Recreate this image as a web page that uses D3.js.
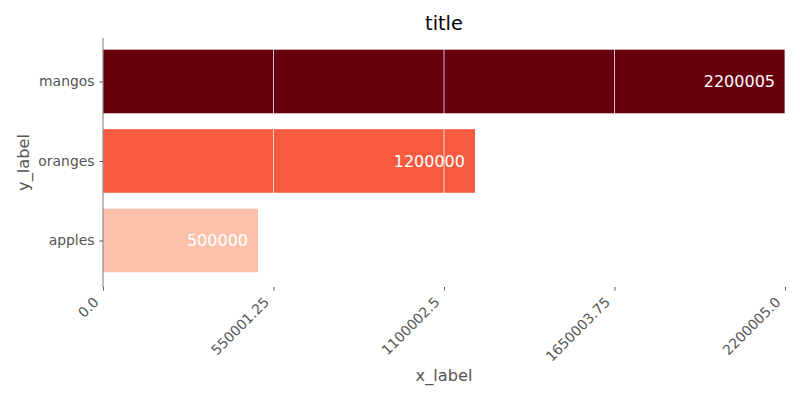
<!DOCTYPE html>
<html>
<head>
<meta charset="utf-8">
<script src="https://cdn.jsdelivr.net/npm/d3@7"></script>
<style>
  body { margin: 0; background: #fff; }
  svg text { font-family: "DejaVu Sans", "Bitstream Vera Sans", sans-serif !important; }
</style>
</head>
<body>
<svg id="chart" width="800" height="400"></svg>
<script>
// chart data
var categories = ['apples', 'oranges', 'mangos'];
var values = [500000, 1200000, 2200005];
var barColors = ['#fcc1a9', '#f65b40', '#67000d'];
var xTicks = [0, 550001.25, 1100002.5, 1650003.75, 2200005.0];
var xTickLabels = ['0.0', '550001.25', '1100002.5', '1650003.75', '2200005.0'];

var svg = d3.select('#chart');
var plotLeft = 103, plotRight = 785, plotTop = 38, plotBottom = 287;

var x = d3.scaleLinear().domain([0, 2200005]).range([plotLeft, plotRight]);
// category positions: index 0 at bottom
var y = d3.scaleLinear().domain([-0.585, 2.547]).range([plotBottom, plotTop]);
var barH = 0.8;

var g = svg.append('g');

g.selectAll('rect.bar')
  .data(values)
  .enter().append('rect')
  .attr('class', 'bar')
  .attr('x', x(0))
  .attr('y', function(d, i) { return y(i + barH / 2); })
  .attr('width', function(d) { return x(d) - x(0); })
  .attr('height', function(d, i) { return y(i - barH / 2) - y(i + barH / 2); })
  .attr('fill', function(d, i) { return barColors[i]; });

// white grid lines on top of the bars
g.selectAll('line.grid')
  .data(xTicks)
  .enter().append('line')
  .attr('x1', function(d) { return x(d); })
  .attr('x2', function(d) { return x(d); })
  .attr('y1', plotTop)
  .attr('y2', plotBottom)
  .attr('stroke', '#fff')
  .attr('stroke-width', 0.8)
  .attr('opacity', 0.9);

// value labels
g.selectAll('text.val')
  .data(values)
  .enter().append('text')
  .attr('x', function(d) { return x(d) - 10; })
  .attr('y', function(d, i) { return y(i); })
  .attr('dy', '0.35em')
  .attr('text-anchor', 'end')
  .attr('fill', '#fff')
  .attr('font-size', 16)
  .text(function(d) { return d; });

// left spine
g.append('line')
  .attr('x1', plotLeft).attr('x2', plotLeft)
  .attr('y1', plotTop).attr('y2', plotBottom)
  .attr('stroke', '#555').attr('stroke-width', 0.8);

// x axis
var xAxis = d3.axisBottom(x)
  .tickValues(xTicks)
  .tickFormat(function(d, i) { return xTickLabels[i]; })
  .tickSize(3.5).tickPadding(4);

var xg = svg.append('g')
  .attr('transform', 'translate(0,' + plotBottom + ')')
  .call(xAxis);
xg.select('.domain').remove();
xg.selectAll('.tick line').attr('stroke', '#555');
xg.selectAll('.tick text')
  .attr('fill', '#555')
  .attr('font-size', 13.9)
  .attr('text-anchor', 'end')
  .attr('dy', null)
  .attr('x', 0).attr('y', 0)
  .attr('transform', 'translate(-4,16) rotate(-45)');

// y axis
var yAxis = d3.axisLeft(y)
  .tickValues([0, 1, 2])
  .tickFormat(function(d) { return categories[d]; })
  .tickSize(3.5).tickPadding(5);

var yg = svg.append('g')
  .attr('transform', 'translate(' + plotLeft + ',0)')
  .call(yAxis);
yg.select('.domain').remove();
yg.selectAll('.tick line').attr('stroke', '#555');
yg.selectAll('.tick text').attr('fill', '#555').attr('font-size', 13.9);

// titles
svg.append('text')
  .attr('x', (plotLeft + plotRight) / 2).attr('y', 30)
  .attr('text-anchor', 'middle')
  .attr('font-size', 19.4)
  .attr('fill', '#000')
  .text('title');

svg.append('text')
  .attr('x', (plotLeft + plotRight) / 2).attr('y', 381)
  .attr('text-anchor', 'middle')
  .attr('font-size', 16.2)
  .attr('fill', '#555')
  .text('x_label');

svg.append('text')
  .attr('transform', 'translate(29,' + ((plotTop + plotBottom) / 2) + ') rotate(-90)')
  .attr('text-anchor', 'middle')
  .attr('font-size', 16.2)
  .attr('fill', '#555')
  .text('y_label');
</script>
</body>
</html>
